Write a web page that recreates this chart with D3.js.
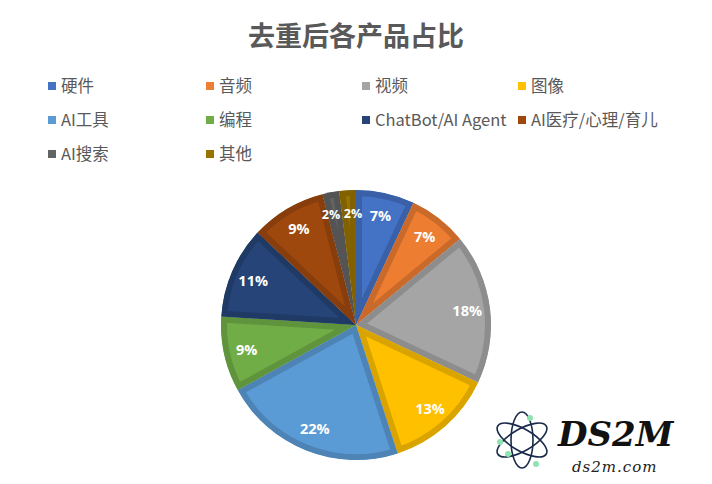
<!DOCTYPE html>
<html><head><meta charset="utf-8">
<script src="https://cdn.jsdelivr.net/npm/d3@7"></script>
<style>body{margin:0;background:#fff}svg{display:block}</style>
</head><body><svg id="c" width="712" height="484"></svg>
<script>
const title = "去重后各产品占比";
const categories = ["硬件","音频","视频","图像","AI工具","编程","ChatBot/AI Agent","AI医疗/心理/育儿","AI搜索","其他"];
const values = [7,7,18,13,22,9,11,9,2,2];
const colors = ["#4472C4","#ED7D31","#A5A5A5","#FFC000","#5B9BD5","#70AD47","#264478","#9E480E","#636363","#997300"];

const svg = d3.select("#c");
const W = 712, H = 484;
const cx = 356, cy = 325, R = 135;
const font = "'Noto Sans CJK SC','Open Sans',sans-serif";

svg.append("text").attr("x", W/2).attr("y", 46).attr("text-anchor","middle")
  .attr("font-family", font).attr("font-size", 27).attr("font-weight","bold")
  .attr("fill","#595959").text(title);

// legend
const colX = [48, 206, 362, 518];
const rowY = [86, 120, 154];
const lg = svg.append("g");
categories.forEach((c,i)=>{
  const x = colX[i%4], y = rowY[Math.floor(i/4)];
  lg.append("rect").attr("x",x).attr("y",y-4).attr("width",8).attr("height",8).attr("fill",colors[i]);
  lg.append("text").attr("x",x+13).attr("y",y).attr("dy","0.36em")
    .attr("font-family", font).attr("font-size",16.5).attr("fill","#595959").text(c);
});

// pie
const pie = d3.pie().sort(null).value(d=>d)(values);
const arc = d3.arc().innerRadius(0).outerRadius(R);
const g = svg.append("g").attr("transform",`translate(${cx},${cy})`);
const defs = svg.append("defs");
pie.forEach((p,i)=>{
  defs.append("clipPath").attr("id","cl"+i).append("path").attr("d", arc(p));
});
g.selectAll("path.s").data(pie).join("path").attr("class","s")
  .attr("d", arc).attr("fill",(d,i)=>colors[i])
  .attr("stroke",(d,i)=>d3.color(colors[i]).darker(0.45))
  .attr("stroke-width",12).attr("stroke-linejoin","miter")
  .attr("clip-path",(d,i)=>`url(#cl${i})`);
const la = d3.arc().innerRadius(R*0.83).outerRadius(R*0.83);
// small adjacent slices: nudge labels apart slightly so they stay legible
const nudge = (d,i)=> d.data < 3 ? (i===8 ? -4 : 4) : 0;
g.selectAll("text.l").data(pie).join("text").attr("class","l")
  .attr("transform",(d,i)=>{const c = la.centroid(d); return `translate(${c[0]+nudge(d,i)},${c[1]})`;})
  .attr("text-anchor","middle").attr("dy","0.36em")
  .attr("font-family","'Open Sans',sans-serif").attr("font-weight","bold")
  .attr("font-size",d=> d.data < 3 ? 12.5 : 14.5)
  .attr("fill","#fff").text(d=>d.data+"%");

// watermark
const wm = svg.append("g").attr("transform","translate(522,440)");
[[-30],[30],[90]].forEach(a=>{
  wm.append("ellipse").attr("rx",28).attr("ry",11).attr("fill","none")
    .attr("stroke","#1a2a4a").attr("stroke-width",1.6).attr("transform",`rotate(${a[0]})`);
});
[[-22,2],[8,-22],[14,24],[-14,14]].forEach(p=>{
  wm.append("circle").attr("cx",p[0]).attr("cy",p[1]).attr("r",3).attr("fill","#8fe3b0");
});
svg.append("text").attr("x",558).attr("y",446).attr("font-family","'DejaVu Serif',serif")
  .attr("font-style","italic").attr("font-weight","bold").attr("font-size",34).attr("fill","#111").text("DS2M");
svg.append("text").attr("x",572).attr("y",472).attr("font-family","'DejaVu Serif',serif")
  .attr("font-style","italic").attr("font-size",15).attr("fill","#222").attr("letter-spacing",1).text("ds2m.com");
</script></body></html>
